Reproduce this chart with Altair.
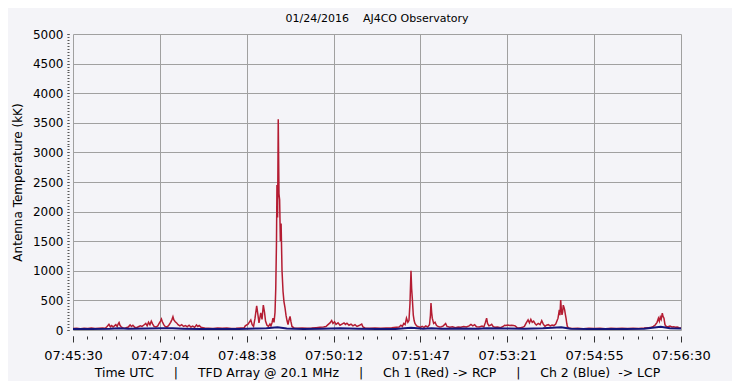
import altair as alt
import pandas as pd

# ---- data (seconds after 07:45:30, antenna temperature in kK) ----
red_t = [0, 4, 8, 12, 16, 20, 24, 28, 32,
         35, 37, 39, 40.5, 42, 43.5, 45, 46.5, 48, 49, 50, 51, 52, 53.5, 55,
         57, 60, 62, 63.5, 65, 67, 69, 71, 73, 75, 77,
         79, 80.5, 82, 83.5, 85, 86.5, 88, 90,
         92, 93.5, 95, 96, 97, 98.5, 100,
         102, 104, 106, 107.5, 108.5, 109.5, 111, 112.5, 114, 116,
         118, 120, 122, 124, 126, 128, 130, 132, 134, 135.5, 137, 139, 141, 143,
         147, 152, 157, 162, 167, 172, 177, 182, 186,
         187, 190, 193, 194.5, 196, 197.6, 199.4, 200.8, 201.9, 203.8, 205.2, 206.6, 207.9, 209,
         210.6, 212.2, 213.8, 214.9, 216, 217.1,
         218.2, 219.3, 220.1, 220.9, 221.4, 222.1, 222.8, 223.6, 224.3, 225.1, 225.9, 226.9,
         228, 229, 230.1, 231.2, 232.3, 233.4, 234.5, 235.6, 236.6, 237.7, 239.9,
         244, 249, 254, 259, 264, 268, 272,
         274.6, 276.8, 279, 280.8, 282.2, 283.9, 285.5, 287.7, 289.8, 292, 294.2, 295.8, 297.4,
         299.6, 301.8, 303.9, 306.1, 308.3, 310.5, 313.4, 314.8, 317,
         322, 328, 334, 340, 346, 351,
         354, 356, 357.5, 359, 360.5, 362, 363.5, 364.7, 365.8, 366.9, 367.6, 368.3, 369.4, 370.3,
         371.2, 373, 375, 377,
         379, 381, 383, 385, 387, 388, 388.6, 389.3, 390, 391.5, 393, 394.5, 396, 398,
         400, 402, 404.5, 406, 409, 412, 415, 418, 421, 424, 427, 430,
         432, 434, 436, 438, 441, 444, 446, 447.5, 449, 450, 451.5, 453, 454.5, 456, 458, 461, 464,
         467, 468.5, 470, 472, 474, 476, 478, 480, 482, 484, 486,
         488, 490, 492, 494, 495.5, 497, 498.5, 500, 501.5, 503, 505, 507, 508.8, 510.5, 512.4,
         514, 516, 518, 520, 522, 524, 525, 526.5, 527.9, 528.6, 529.4, 530.1, 530.8, 531.5,
         532.2, 533, 533.7, 534.5, 535.2, 536, 536.6, 538,
         542, 548, 554, 560, 566, 572, 578, 584, 590, 596, 602, 608, 614, 620, 625,
         628, 630, 632, 634, 635.5, 636.5, 637.5, 638.5, 639.7, 640.5, 641.5, 642.6, 644, 646,
         648, 650, 652, 654, 656, 658, 660]
red_v = [25, 30, 22, 28, 24, 32, 26, 30, 35,
         30, 60, 95, 55, 75, 50, 70, 90, 60, 100, 125, 80, 60, 40, 30,
         35, 50, 85, 60, 80, 45, 40, 55, 70, 60, 85,
         110, 70, 130, 90, 150, 100, 60, 50,
         70, 110, 150, 185, 140, 90, 60,
         50, 80, 130, 180, 225, 170, 140, 120, 90, 70,
         90, 60, 75, 55, 80, 50, 65, 45, 85, 60, 75, 45, 40, 35,
         30, 25, 32, 28, 35, 27, 30, 35, 40,
         70, 100, 170, 90, 60, 200, 410, 250, 120, 290, 180, 420, 300, 150,
         80, 60, 100, 70, 120, 200,
         130, 300, 700, 1500, 2450, 1900, 3560, 2300, 2200, 1500, 1800, 1000,
         650, 480, 380, 250, 160, 90, 170, 230, 140, 60, 35,
         30, 35, 28, 33, 40, 45, 50,
         60, 90, 120, 160, 110, 140, 95, 120, 80, 100, 120, 95, 115,
         80, 100, 70, 90, 60, 75, 100, 50, 35,
         30, 35, 28, 32, 38, 45,
         50, 80, 60, 110, 90, 200, 130, 160, 450, 1000, 700, 540, 250, 160,
         110, 70, 55, 45,
         60, 45, 70, 50, 90, 250, 455, 300, 200, 110, 130, 80, 60, 50,
         55, 70, 110, 60, 45, 55, 40, 50, 45, 60, 50, 70,
         95, 70, 90, 55, 50, 65, 50, 120, 200, 110, 70, 80, 95, 60, 45, 50, 40,
         60, 80, 75, 85, 75, 80, 75, 70, 40, 35, 40,
         45, 60, 120, 170, 120, 180, 130, 150, 110, 85, 110, 90, 157, 100, 60,
         80, 90, 70, 85, 75, 100, 140, 200, 340, 250, 507, 350, 255, 300,
         420, 380, 340, 260, 200, 110, 60, 35,
         25, 30, 22, 28, 25, 30, 22, 28, 25, 30, 24, 30, 26, 32, 40,
         45, 60, 85, 130, 200, 150, 220, 180, 285, 230, 200, 90, 60, 55,
         65, 50, 55, 45, 50, 40, 35]

blue_t = [0, 20, 40, 50, 60, 80, 96, 108, 120, 140, 160, 180, 200, 210, 222, 232, 250,
          270, 290, 310, 330, 350, 367, 380, 389, 400, 420, 440, 449, 470, 490, 510,
          530, 540, 560, 580, 600, 620, 638, 648, 660]
blue_v = [15, 18, 20, 28, 20, 25, 30, 28, 22, 18, 15, 18, 25, 30, 45, 25, 15,
          20, 30, 22, 15, 18, 40, 22, 30, 20, 25, 22, 30, 25, 20, 28,
          45, 20, 15, 18, 15, 20, 55, 30, 25]

x_labels = ["07:45:30", "07:47:04", "07:48:38", "07:50:12",
            "07:51:47", "07:53:21", "07:54:55", "07:56:30"]
y_major = list(range(0, 5001, 500))
y_minor = list(range(0, 5001, 50))

span = 660
step = span / 7
x_major = [i * step for i in range(8)]
x_minor = [i * step / 6 for i in range(43)]

red = pd.DataFrame({"t": red_t, "v": red_v})
blue = pd.DataFrame({"t": blue_t, "v": blue_v})

label_js = "[" + ",".join("'%s'" % s for s in x_labels) + "]"
FONT = "DejaVu Sans"
NB = "\u00a0"
xtitle = ("Time UTC" + NB * 5 + "|" + NB * 5 + "TFD Array @ 20.1 MHz" + NB * 5 + "|" + NB * 5 +
          "Ch 1 (Red) -> RCP" + NB * 5 + "|" + NB * 5 + "Ch 2 (Blue)" + NB * 2 + "-> LCP")

xscale = alt.Scale(domain=[0, span], nice=False, zero=False)
yscale = alt.Scale(domain=[0, 5000], nice=False)

red_layer = alt.Chart(red).mark_line(color="#b41c32", strokeWidth=1.5, interpolate="linear").encode(
    x=alt.X("t:Q", scale=xscale,
            axis=alt.Axis(values=x_major, labelExpr=label_js + "[round(datum.value/%f)]" % step,
                          grid=True, gridColor="#a0a0a0", gridWidth=1, tickSize=6, offset=6,
                          domain=False, tickColor="#333", labelFont=FONT, labelFontSize=13,
                          labelColor="#000", labelPadding=7, labelFlush=False, labelOverlap=False,
                          title=xtitle, titleFont=FONT, titleFontSize=12.5, titleFontWeight="normal",
                          titleColor="#000", titlePadding=4, orient="bottom")),
    y=alt.Y("v:Q", scale=yscale,
            axis=alt.Axis(values=y_major, format="d", grid=True, gridColor="#a0a0a0", gridWidth=1,
                          tickSize=2, offset=4, domain=False, tickColor="#333",
                          labelFont=FONT, labelFontSize=12, labelColor="#000", labelPadding=4,
                          title="Antenna Temperature (kK)", titleFont=FONT, titleFontSize=12,
                          titleFontWeight="normal", titleColor="#000", titleX=-52, titleY=148,
                          titleAngle=270, titleAlign="center", titleBaseline="middle",
                          orient="left")),
)

blue_layer = alt.Chart(blue).mark_line(color="#14147a", strokeWidth=2).encode(
    x=alt.X("t:Q", scale=xscale,
            axis=alt.Axis(values=x_minor, labels=False, grid=False, tickSize=3, offset=6,
                          domain=False, tickColor="#333", title=None, orient="bottom")),
    y=alt.Y("v:Q", scale=yscale,
            axis=alt.Axis(values=y_minor, labels=False, grid=False, tickSize=2, offset=4,
                          domain=False, tickColor="#555", title=None, orient="left")),
)

chart = alt.layer(red_layer, blue_layer).resolve_axis(
    x="independent", y="independent"
).properties(
    width=608, height=296,
    title=alt.TitleParams("01/24/2016" + NB * 4 + "AJ4CO Observatory", font=FONT, fontSize=11,
                          fontWeight="normal", color="#000", anchor="middle", offset=4),
    background="#f4f4f8",
    padding={"left": 65, "top": 26, "right": 51, "bottom": 51},
    autosize=alt.AutoSizeParams(type="none"),
).configure_view(stroke=None)

chart.save("out.html", embed_options={"renderer": "svg", "actions": False})
